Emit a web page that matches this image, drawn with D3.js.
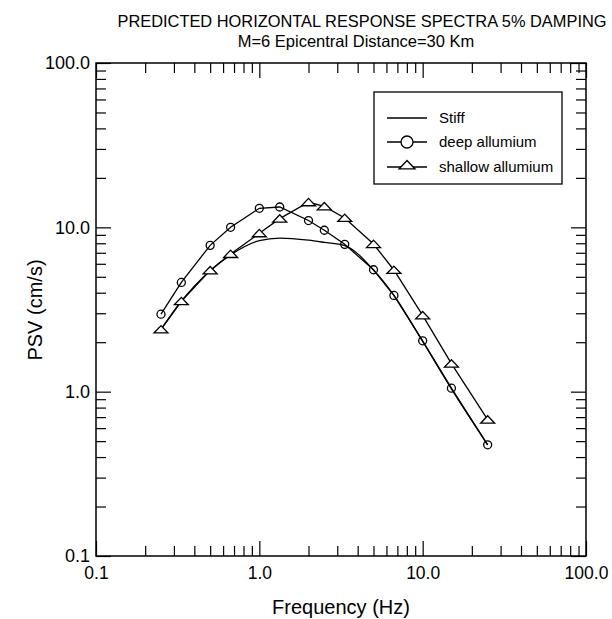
<!DOCTYPE html>
<html>
<head>
<meta charset="utf-8">
<script src="https://cdn.jsdelivr.net/npm/d3@7"></script>
<style>
body{margin:0;background:#fff;}
text{font-family:"Liberation Sans",Arial,Helvetica,sans-serif;fill:#000;}
</style>
</head>
<body>
<svg id="chart" width="612" height="619"></svg>
<script>
const freqs = [0.25, 0.333, 0.5, 0.667, 1.0, 1.333, 2.0, 2.5, 3.333, 5.0, 6.667, 10.0, 15.0, 25.0];
const stiff = [2.39, 3.55, 5.45, 6.8, 8.3, 8.6, 8.35, 8.1, 7.75, 5.5, 3.85, 2.02, 1.04, 0.475];
const deep = [2.96, 4.62, 7.77, 10.0, 13.06, 13.3, 11.0, 9.6, 7.88, 5.52, 3.85, 2.04, 1.05, 0.475];
const shallow = [2.39, 3.55, 5.47, 6.88, 9.2, 11.3, 14.2, 13.4, 11.4, 7.91, 5.5, 2.91, 1.48, 0.675];
const majorTicks = [0.1, 1, 10, 100];
const seriesNames = ["Stiff", "deep allumium", "shallow allumium"];
const titleLines = ["PREDICTED HORIZONTAL RESPONSE SPECTRA 5% DAMPING", "M=6 Epicentral Distance=30 Km"];

const svg = d3.select("#chart");
const L = 96, R = 586, T = 63, B = 556;
const x = d3.scaleLog().domain([0.1, 100]).range([L, R]);
const y = d3.scaleLog().domain([0.1, 100]).range([B, T]);

const minorTicks = [];
[0.1, 1, 10].forEach(d => { for (let k = 2; k <= 9; k++) minorTicks.push(d * k); });
const fmt = d3.format(".1f");

function styleAxis(g) {
  g.select(".domain").remove();
  g.selectAll(".tick line").attr("stroke", "#000").attr("stroke-width", 1.2);
}
// bottom
svg.append("g").attr("transform", `translate(0,${B})`)
  .call(d3.axisBottom(x).tickValues(minorTicks).tickSize(-10).tickFormat(""))
  .call(styleAxis);
svg.append("g").attr("transform", `translate(0,${B})`)
  .call(d3.axisBottom(x).tickValues(majorTicks).tickSize(-15).tickPadding(19).tickFormat(fmt))
  .call(styleAxis)
  .call(g => g.selectAll("text").attr("font-size", 17.5).attr("dy", "0.25em"));
// top
svg.append("g").attr("transform", `translate(0,${T})`)
  .call(d3.axisTop(x).tickValues(minorTicks).tickSize(-10).tickFormat(""))
  .call(styleAxis);
svg.append("g").attr("transform", `translate(0,${T})`)
  .call(d3.axisTop(x).tickValues(majorTicks).tickSize(-15).tickFormat(""))
  .call(styleAxis);
// left
svg.append("g").attr("transform", `translate(${L},0)`)
  .call(d3.axisLeft(y).tickValues(minorTicks).tickSize(-10).tickFormat(""))
  .call(styleAxis);
svg.append("g").attr("transform", `translate(${L},0)`)
  .call(d3.axisLeft(y).tickValues(majorTicks).tickSize(-15).tickPadding(6).tickFormat(fmt))
  .call(styleAxis)
  .call(g => g.selectAll("text").attr("font-size", 18));
// right
svg.append("g").attr("transform", `translate(${R},0)`)
  .call(d3.axisRight(y).tickValues(minorTicks).tickSize(-10).tickFormat(""))
  .call(styleAxis);
svg.append("g").attr("transform", `translate(${R},0)`)
  .call(d3.axisRight(y).tickValues(majorTicks).tickSize(-15).tickFormat(""))
  .call(styleAxis);

// frame
svg.append("rect").attr("x", L).attr("y", T).attr("width", R - L).attr("height", B - T)
  .attr("fill", "none").attr("stroke", "#000").attr("stroke-width", 1.5);

// lines
const lineStraight = d3.line().x(d => x(d[0])).y(d => y(d[1]));
const lineSmooth = d3.line().x(d => x(d[0])).y(d => y(d[1])).curve(d3.curveMonotoneX);
const zip = vals => freqs.map((f, i) => [f, vals[i]]);

svg.append("path").datum(zip(stiff)).attr("d", lineSmooth)
  .attr("fill", "none").attr("stroke", "#000").attr("stroke-width", 1.3);
svg.append("path").datum(zip(deep)).attr("d", lineStraight)
  .attr("fill", "none").attr("stroke", "#000").attr("stroke-width", 1.3);
svg.append("path").datum(zip(shallow)).attr("d", lineStraight)
  .attr("fill", "none").attr("stroke", "#000").attr("stroke-width", 1.3);

function triPath(s) { // s = half width
  const h = s * 0.9;
  return `M0,${-h * 0.62}L${s},${h * 0.55}L${-s},${h * 0.55}Z`;
}
svg.append("g").selectAll("circle").data(zip(deep)).join("circle")
  .attr("cx", d => x(d[0])).attr("cy", d => y(d[1])).attr("r", 4)
  .attr("fill", "none").attr("stroke", "#000").attr("stroke-width", 1.3);
svg.append("g").selectAll("path").data(zip(shallow)).join("path")
  .attr("transform", d => `translate(${x(d[0])},${y(d[1])})`)
  .attr("d", triPath(7))
  .attr("fill", "#fff").attr("stroke", "#000").attr("stroke-width", 1.3);

// legend
const lg = svg.append("g");
lg.append("rect").attr("x", 374).attr("y", 92).attr("width", 188).attr("height", 92)
  .attr("fill", "#fff").attr("stroke", "#000").attr("stroke-width", 1.3);
const ly = [118, 142, 167];
ly.forEach((yy, i) => {
  lg.append("line").attr("x1", 387).attr("x2", 427).attr("y1", yy).attr("y2", yy)
    .attr("stroke", "#000").attr("stroke-width", 1.3);
  lg.append("text").attr("x", 439).attr("y", yy + 5).attr("font-size", 15).text(seriesNames[i]);
});
lg.append("circle").attr("cx", 407).attr("cy", ly[1]).attr("r", 6)
  .attr("fill", "#fff").attr("stroke", "#000").attr("stroke-width", 1.3);
lg.append("path").attr("transform", `translate(407,${ly[2] - 2})`).attr("d", triPath(8))
  .attr("fill", "#fff").attr("stroke", "#000").attr("stroke-width", 1.3);

// titles
svg.append("text").attr("x", 362).attr("y", 27).attr("text-anchor", "middle").attr("font-size", 16.4).text(titleLines[0]);
svg.append("text").attr("x", 356).attr("y", 47).attr("text-anchor", "middle").attr("font-size", 16.5).text(titleLines[1]);
svg.append("text").attr("x", 341).attr("y", 614).attr("text-anchor", "middle").attr("font-size", 20).text("Frequency (Hz)");
svg.append("text").attr("transform", "translate(42,310) rotate(-90)").attr("text-anchor", "middle").attr("font-size", 20).text("PSV (cm/s)");
</script>
</body>
</html>
